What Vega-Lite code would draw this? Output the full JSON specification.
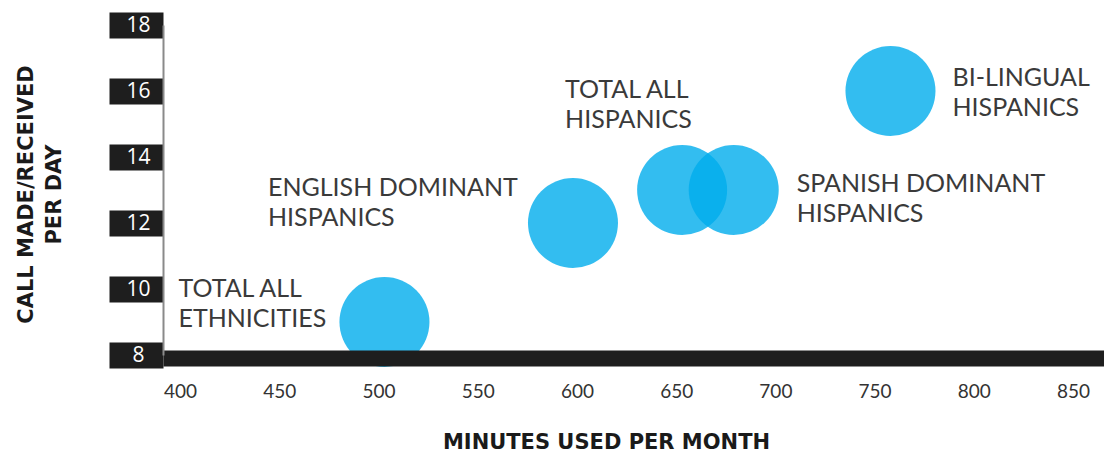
{
  "$schema": "https://vega.github.io/schema/vega-lite/v6.json",
  "width": 941,
  "height": 330,
  "autosize": {"type": "none"},
  "padding": {"left": 163, "top": 25, "right": 0, "bottom": 101},
  "background": "white",
  "config": {
    "view": {"stroke": null},
    "text": {"font": "Lato", "fontSize": 25, "color": "#3a3a3a", "lineHeight": 30, "align": "left", "baseline": "alphabetic"}
  },
  "data": {
    "values": [
      {"id": "eth", "minutes": 503, "calls": 9, "label": ["TOTAL ALL", "ETHNICITIES"]},
      {"id": "eng", "minutes": 598, "calls": 12, "label": ["ENGLISH DOMINANT", "HISPANICS"]},
      {"id": "his", "minutes": 653, "calls": 13, "label": ["TOTAL ALL", "HISPANICS"]},
      {"id": "spa", "minutes": 679, "calls": 13, "label": ["SPANISH DOMINANT", "HISPANICS"]},
      {"id": "bil", "minutes": 758, "calls": 16, "label": ["BI-LINGUAL", "HISPANICS"]}
    ]
  },
  "encoding": {
    "x": {
      "field": "minutes", "type": "quantitative",
      "scale": {"domain": [391.4, 865.6], "nice": false, "zero": false},
      "axis": {
        "values": [400, 450, 500, 550, 600, 650, 700, 750, 800, 850],
        "grid": false, "ticks": false,
        "domainColor": "#1e1e1e", "domainWidth": 16, "domainCap": "butt", "offset": 3,
        "labelFont": "Lato", "labelFontSize": 19, "labelColor": "#333333", "labelPadding": 24,
        "title": "MINUTES USED PER MONTH",
        "titleFont": "DejaVu Sans", "titleFontWeight": "bold", "titleFontSize": 21, "titleColor": "#1a1a1a",
        "titleX": 443, "titleY": 90, "titleBaseline": "alphabetic", "titleAnchor": null,
        "zindex": 1
      }
    },
    "y": {
      "field": "calls", "type": "quantitative",
      "scale": {"domain": [8, 18], "nice": false, "zero": false},
      "axis": {
        "values": [8, 10, 12, 14, 16, 18],
        "grid": false,
        "ticks": true, "tickSize": 54, "tickWidth": 26, "tickColor": "#1e1e1e", "tickCap": "butt",
        "domainColor": "#8a8a8a", "domainWidth": 2,
        "labelFont": "Open Sans", "labelFontSize": 21, "labelColor": "#ffffff",
        "labelAlign": "center", "labelBaseline": "middle", "labelPadding": -29,
        "title": ["CALL MADE/RECEIVED", "PER DAY"],
        "titleFont": "DejaVu Sans", "titleFontWeight": "bold", "titleFontSize": 21, "titleColor": "#1a1a1a",
        "titleLineHeight": 28, "titleAngle": -90, "titleBaseline": "alphabetic",
        "titleX": -131, "titleY": 169, "titleAlign": "center",
        "zindex": 2
      }
    }
  },
  "layer": [
    {
      "mark": {"type": "point", "shape": "circle", "filled": true, "size": 8100, "color": "#00ADEC", "opacity": 0.8}
    },
    {
      "transform": [{"filter": "datum.id == 'eth'"}],
      "mark": {"type": "text", "dx": -206, "dy": -25},
      "encoding": {"text": {"field": "label"}}
    },
    {
      "transform": [{"filter": "datum.id == 'eng'"}],
      "mark": {"type": "text", "dx": -305, "dy": -27},
      "encoding": {"text": {"field": "label"}}
    },
    {
      "transform": [{"filter": "datum.id == 'his'"}],
      "mark": {"type": "text", "dx": -117, "dy": -92},
      "encoding": {"text": {"field": "label"}}
    },
    {
      "transform": [{"filter": "datum.id == 'spa'"}],
      "mark": {"type": "text", "dx": 63, "dy": 2},
      "encoding": {"text": {"field": "label"}}
    },
    {
      "transform": [{"filter": "datum.id == 'bil'"}],
      "mark": {"type": "text", "dx": 62, "dy": -5},
      "encoding": {"text": {"field": "label"}}
    }
  ]
}
